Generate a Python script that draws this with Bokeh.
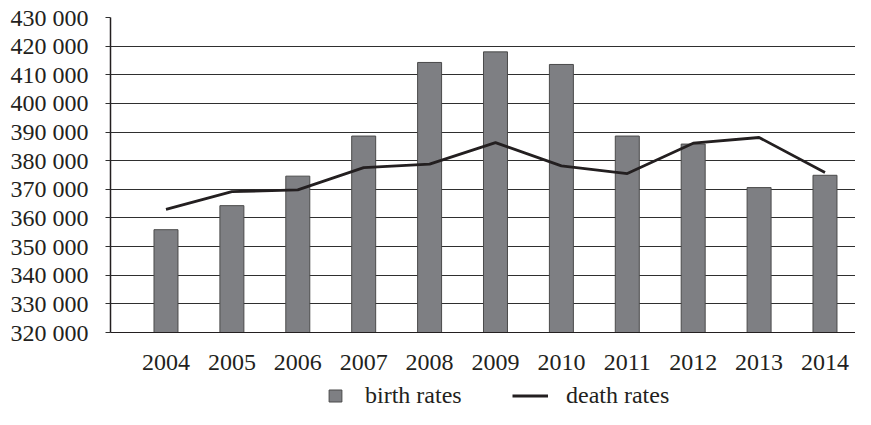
from bokeh.plotting import figure
from bokeh.layouts import column
from bokeh.models import FixedTicker, Legend, LegendItem, Range1d, CustomJSTickFormatter
from bokeh.embed import file_html
from bokeh.resources import INLINE

years = [2004, 2005, 2006, 2007, 2008, 2009, 2010, 2011, 2012, 2013, 2014]
birth_rates = [355900, 364300, 374600, 388600, 414300, 418000, 413600, 388600, 385800, 370600, 374900]
death_rates = [363000, 369200, 369800, 377600, 378800, 386300, 378200, 375500, 386100, 388100, 375900]
y_ticks = [320000, 330000, 340000, 350000, 360000, 370000, 380000, 390000, 400000, 410000, 420000, 430000]
y_tick_labels = ["320 000", "330 000", "340 000", "350 000", "360 000", "370 000",
                 "380 000", "390 000", "400 000", "410 000", "420 000", "430 000"]
series_names = ["birth rates", "death rates"]

FONT = "Liberation Serif"
INK = "#231f20"
BAR_FILL = "#7e7f83"
BAR_LINE = "#4a4a4a"
FS = "24px"

W = 855
H_MAIN = 381
H_LEG = 28

p = figure(width=W, height=H_MAIN, output_backend="svg", toolbar_location=None,
           x_range=Range1d(2003.158, 2014.463), y_range=Range1d(320000, 430000),
           min_border_left=110, min_border_right=0, min_border_top=17, min_border_bottom=49)
p.outline_line_color = None

bars = p.vbar(x=years, top=birth_rates, bottom=320000, width=0.364,
              fill_color=BAR_FILL, line_color=BAR_LINE, line_width=1)
line = p.line(x=years, y=death_rates, line_color=INK, line_width=2.8)

p.xgrid.grid_line_color = None
p.ygrid.grid_line_color = "#2f2f2f"
p.ygrid.grid_line_width = 1.2
p.ygrid.ticker = FixedTicker(ticks=y_ticks)

p.yaxis.ticker = FixedTicker(ticks=y_ticks)
p.yaxis.formatter = CustomJSTickFormatter(
    args=dict(tvals=y_ticks, tlabels=y_tick_labels),
    code="const i = tvals.indexOf(tick); return i >= 0 ? tlabels[i] : '';")
p.yaxis.bounds = (317500, 430000)
p.yaxis.axis_line_color = INK
p.yaxis.axis_line_width = 1.5
p.yaxis.major_tick_out = 5
p.yaxis.major_tick_in = 0
p.yaxis.minor_tick_line_color = None
p.yaxis.major_tick_line_color = "#2f2f2f"
p.yaxis.major_label_standoff = 17
p.yaxis.major_label_text_font = FONT
p.yaxis.major_label_text_font_size = FS
p.yaxis.major_label_text_color = INK

p.xaxis.ticker = FixedTicker(ticks=years)
p.xaxis.axis_line_color = INK
p.xaxis.axis_line_width = 1.2
p.xaxis.major_tick_out = 0
p.xaxis.major_tick_in = 0
p.xaxis.minor_tick_line_color = None
p.xaxis.major_label_standoff = 22
p.xaxis.major_label_text_font = FONT
p.xaxis.major_label_text_font_size = FS
p.xaxis.major_label_text_color = INK

# legend strip below the chart (its glyphs fall outside its ranges, only the legend shows)
lf = figure(width=W, height=H_LEG, output_backend="svg", toolbar_location=None,
            x_range=Range1d(0, 1), y_range=Range1d(0, 1),
            x_axis_type=None, y_axis_type=None,
            min_border_left=0, min_border_right=0, min_border_top=0, min_border_bottom=0)
lf.outline_line_color = None
lf.xgrid.visible = False
lf.ygrid.visible = False
lg_bar = lf.vbar(x=years, top=birth_rates, bottom=320000, width=0.364,
                 fill_color=BAR_FILL, line_color=BAR_LINE, line_width=1)
lg_line = lf.line(x=years, y=death_rates, line_color=INK, line_width=2.8)


def make_legend(item, loc, gw, gh, standoff):
    return Legend(items=[item], location=loc, orientation="horizontal",
                  glyph_width=gw, glyph_height=gh, label_standoff=standoff,
                  padding=0, margin=0, spacing=0, border_line_alpha=0,
                  background_fill_alpha=0, label_text_font=FONT,
                  label_text_font_size=FS, label_text_color=INK,
                  label_height=20)


LEG_SHIFT = 110  # the strip's frame is aligned with the chart's frame
lf.add_layout(make_legend(LegendItem(label=series_names[0], renderers=[lg_bar]), (327 - LEG_SHIFT, 0), 16, 15, 22))
lf.add_layout(make_legend(LegendItem(label=series_names[1], renderers=[lg_line]), (512 - LEG_SHIFT, 0), 36, 15, 18))

layout = column(p, lf, spacing=0)
open("out.html", "w").write(file_html(layout, INLINE))
